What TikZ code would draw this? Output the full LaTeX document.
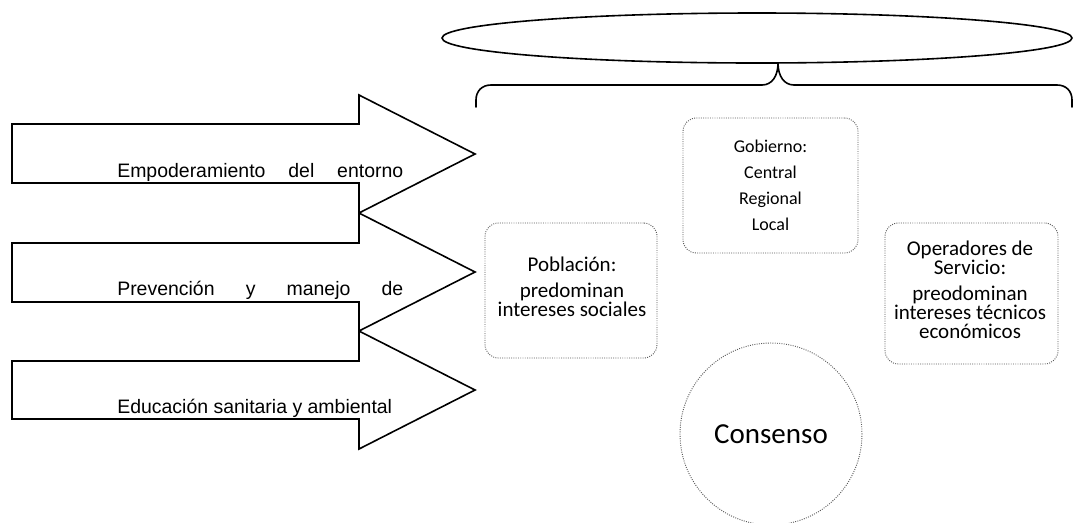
\documentclass[tikz,border=0pt]{standalone}
\usepackage{fontspec}
\usetikzlibrary{shapes.geometric}
\setmainfont{Liberation Sans}
\newfontfamily\calib{Carlito}
\begin{document}
\begin{tikzpicture}[x=0.75pt,y=-0.75pt,
  arrowshape/.style={draw=black,line width=1.2pt,line join=miter},
  arrowtext/.style={anchor=base west,inner sep=0pt,font=\fontsize{14.6}{17}\selectfont},
  softbox/.style={draw=black!65,densely dotted,line width=0.7pt,rounded corners=10pt,inner sep=0pt,outer sep=0pt,align=center},
  outline/.style={draw=black,line width=1.2pt}]
\clip (0,0) rectangle (1073,522);
\useasboundingbox (0,0) rectangle (1073,522);
% arrows
\draw[arrowshape] (12,124) -- (359,124) -- (359,95) -- (475,154) -- (359,213) -- (359,183) -- (12,183) -- cycle;
\draw[arrowshape] (12,243) -- (359,243) -- (359,213) -- (475,272) -- (359,331) -- (359,302) -- (12,302) -- cycle;
\draw[arrowshape] (12,361) -- (359,361) -- (359,331) -- (475,390) -- (359,449) -- (359,419) -- (12,419) -- cycle;
\node[arrowtext] (t1) at (117,177) {\makebox[214.5pt][s]{Empoderamiento del entorno}};
\node[arrowtext] (t2) at (117,295) {\makebox[214.5pt][s]{Prevención y manejo de}};
\node[arrowtext] (t3) at (117,413) {Educación sanitaria y ambiental};
% ellipse and brace
\node[outline,ellipse,minimum width=472.5pt,minimum height=37.5pt,inner sep=0pt] (top) at (757,38) {};
\coordinate (tip) at (778,63);
\draw[outline,line cap=round] (476,107) -- (476,100) .. controls (476,91) and (482,85) .. (491,85) -- (762,85) .. controls (772,85) and (778,76) .. (tip) .. controls (778,76) and (784,85) .. (794,85) -- (1057,85) .. controls (1066,85) and (1072,91) .. (1072,100) -- (1072,107);
% boxes
\node[softbox,minimum width=131.25pt,minimum height=101.25pt,font=\calib\fontsize{13.5}{19.5}\selectfont] (gob) at (770.5,185.5) {Gobierno:\\Central\\Regional\\Local};
\node[softbox,minimum width=129pt,minimum height=101.25pt] (pob) at (571,290.5) {};
\node[align=center,inner sep=0pt,font=\calib\fontsize{15.75}{14.5}\selectfont] (pobtext) at (572,287) {Población:\\[4.5pt]predominan\\intereses sociales};
\node[softbox,minimum width=129.75pt,minimum height=105.75pt] (ope) at (971.5,293.5) {};
\node[align=center,inner sep=0pt,font=\calib\fontsize{15.75}{14.5}\selectfont] (opetext) at (970,290) {Operadores de\\Servicio:\\[4.5pt]preodominan\\intereses técnicos\\económicos};
\node[draw=black!65,densely dotted,line width=0.7pt,circle,minimum size=136.5pt,inner sep=0pt,font=\calib\fontsize{21.75}{26}\selectfont] (con) at (771,434) {Consenso};
\end{tikzpicture}
\end{document}
